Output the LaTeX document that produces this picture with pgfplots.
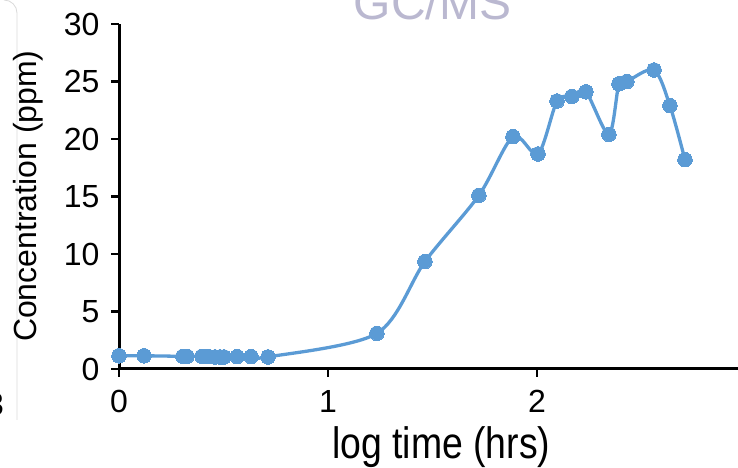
\documentclass[border=0pt]{standalone}
\usepackage{pgfplots}
\pgfplotsset{compat=1.18}
\usepackage{fontspec}
\setmainfont{Liberation Sans}
\newfontfamily\narrowfont{Liberation Sans}[FakeStretch=0.85]
\definecolor{ser}{RGB}{91,155,213}
\definecolor{ttl}{RGB}{186,184,208}
\definecolor{frm}{RGB}{217,217,217}
\begin{document}
\begin{tikzpicture}[x=1bp,y=1bp]
\useasboundingbox (0,0) rectangle (738,468);
\draw[frm, line width=0.8bp] (17,48) -- (17,455) arc[start angle=0, end angle=90, radius=13];
\begin{axis}[
  at={(119bp,99bp)}, anchor=south west,
  scale only axis, width=627bp, height=345bp,
  xmin=0, xmax=3, ymin=0, ymax=30,
  axis lines*=left,
  axis line style={line width=3bp, black},
  xtick={0,1,2,3}, ytick={0,5,...,30},
  tick style={line width=2.5bp, black},
  tick align=outside, major tick length=8bp,
  /pgf/number format/assume math mode=true,
  tick label style={font=\fontsize{32bp}{36bp}\selectfont},
  xticklabel style={yshift=-10bp},
  yticklabel style={xshift=-8bp},
  clip=false,
  title={\color{ttl}GC/MS},
  title style={at={(axis description cs:0.5,0.996)}, anchor=base, font=\fontsize{48bp}{54bp}\selectfont},
  xlabel={\narrowfont log time (hrs)},
  xlabel style={at={(axis description cs:0.514,-0.258)}, anchor=base, font=\fontsize{44bp}{50bp}\selectfont},
  ylabel={Concentration (ppm)},
  ylabel style={at={(axis description cs:-0.145,0.501)}, rotate=0, anchor=center, font=\fontsize{32bp}{36bp}\selectfont},
]
\addplot[ser, line width=3.3bp, smooth, tension=0.5, mark=*, mark size=7.3bp, mark options={fill=ser, draw=ser, line width=0pt}] coordinates {
(0,1.15) (0.12,1.15) (0.306,1.1) (0.325,1.1) (0.397,1.1) (0.426,1.1) (0.459,1.05) (0.483,1.05) (0.502,1.05)
(0.565,1.08) (0.632,1.08) (0.713,1.05)
(1.234,3.1) (1.464,9.35) (1.722,15.1) (1.885,20.2) (2.005,18.7) (2.096,23.3) (2.167,23.7) (2.234,24.1)
(2.344,20.4) (2.392,24.8) (2.43,25.0) (2.56,26.0) (2.636,22.9) (2.708,18.2)
};
\end{axis}
\node[anchor=base east, font=\fontsize{32bp}{36bp}\selectfont, inner sep=0pt] at (4,52) {3};
\end{tikzpicture}
\end{document}
